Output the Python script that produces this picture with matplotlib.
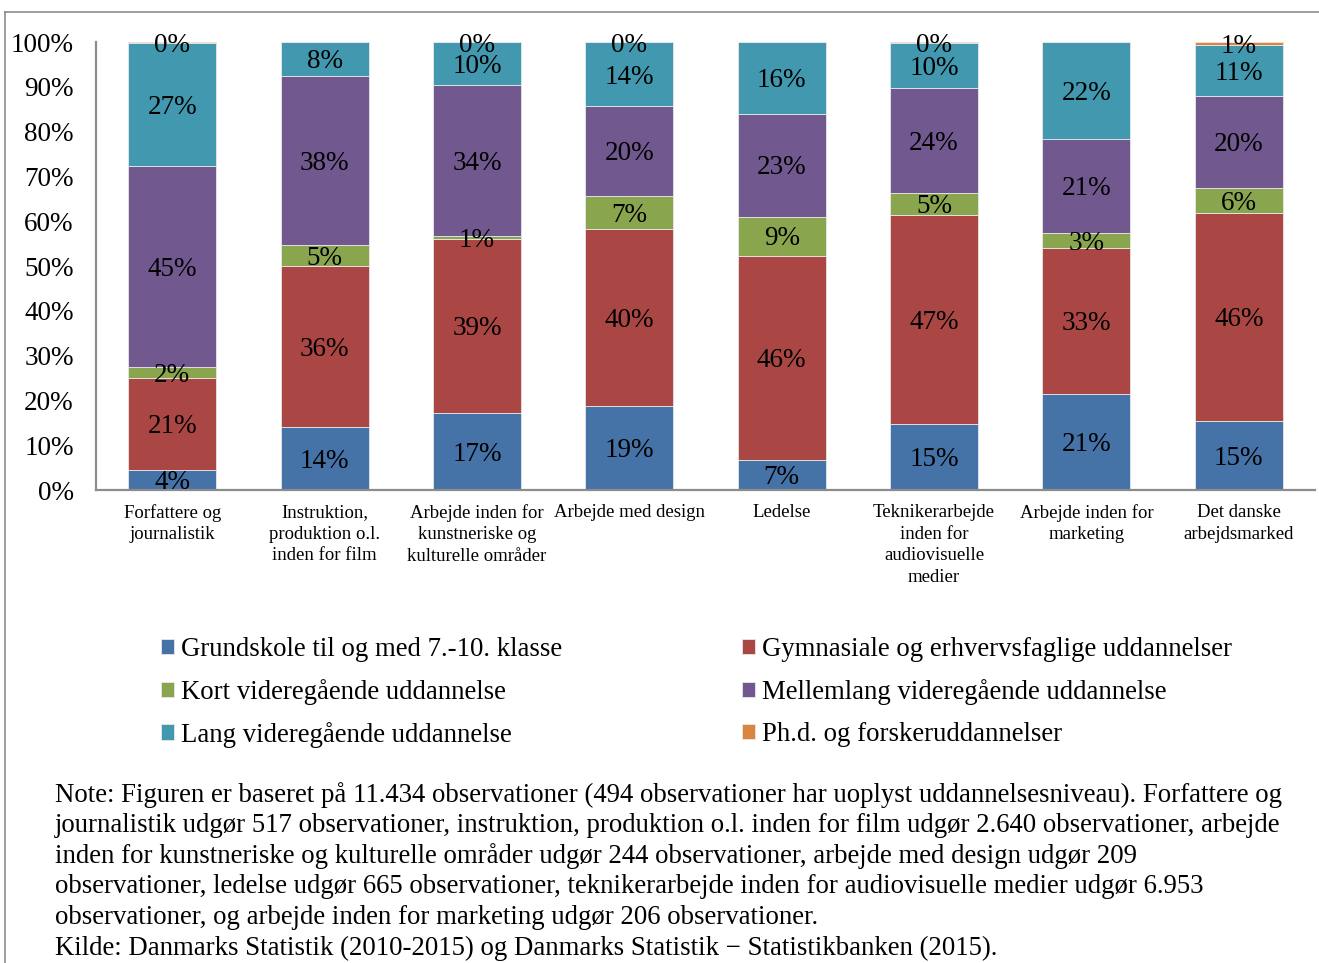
import matplotlib
matplotlib.use("Agg")
import matplotlib.pyplot as plt
from matplotlib.lines import Line2D
import numpy as np

plt.rcParams['font.family'] = ['Liberation Serif', 'DejaVu Serif']

categories = [
    "Forfattere og\njournalistik",
    "Instruktion,\nproduktion o.l.\ninden for film",
    "Arbejde inden for\nkunstneriske og\nkulturelle områder",
    "Arbejde med design",
    "Ledelse",
    "Teknikerarbejde\ninden for\naudiovisuelle\nmedier",
    "Arbejde inden for\nmarketing",
    "Det danske\narbejdsmarked",
]

series_names = [
    "Grundskole til og med 7.-10. klasse",
    "Gymnasiale og erhvervsfaglige uddannelser",
    "Kort videregående uddannelse",
    "Mellemlang videregående uddannelse",
    "Lang videregående uddannelse",
    "Ph.d. og forskeruddannelser",
]

grundskole = [4.4, 14.1, 17.2, 18.7, 6.7, 14.8, 21.4, 15.4]
gymnasiale = [20.6, 35.9, 38.8, 39.6, 45.6, 46.6, 32.6, 46.4]
kort = [2.4, 4.7, 0.8, 7.3, 8.7, 4.8, 3.4, 5.6]
mellemlang = [45.0, 37.7, 33.6, 20.1, 23.0, 23.6, 20.9, 20.5]
lang = [27.4, 7.6, 9.5, 14.2, 16.0, 10.0, 21.7, 11.4]
phd = [0.2, 0.0, 0.1, 0.1, 0.0, 0.2, 0.0, 0.7]

colors = ["#4572A7", "#AA4643", "#89A54E", "#71588F", "#4198AF", "#DB843D"]

yticks = [0, 10, 20, 30, 40, 50, 60, 70, 80, 90, 100]
ytick_labels = [f"{v}%" for v in yticks]

note_lines = [
    "Note: Figuren er baseret på 11.434 observationer (494 observationer har uoplyst uddannelsesniveau). Forfattere og",
    "journalistik udgør 517 observationer, instruktion, produktion o.l. inden for film udgør 2.640 observationer, arbejde",
    "inden for kunstneriske og kulturelle områder udgør 244 observationer, arbejde med design udgør 209",
    "observationer, ledelse udgør 665 observationer, teknikerarbejde inden for audiovisuelle medier udgør 6.953",
    "observationer, og arbejde inden for marketing udgør 206 observationer.",
    "Kilde: Danmarks Statistik (2010-2015) og Danmarks Statistik \u2212 Statistikbanken (2015).",
]

W, H = 1319, 963
fig = plt.figure(figsize=(W / 100, H / 100), dpi=100)
ax = fig.add_axes([96 / W, (H - 490) / H, (1315 - 96) / W, 448 / H])

data = np.array([grundskole, gymnasiale, kort, mellemlang, lang, phd])
totals = data.sum(axis=0)
pct = data / totals * 100
x = np.arange(len(categories))
bottom = np.zeros(len(categories))
handles = []
for i, name in enumerate(series_names):
    bars = ax.bar(x, pct[i], 0.577, bottom=bottom, color=colors[i],
                  edgecolor="#E8E8E8", linewidth=0.6, label=name)
    labels = [f"{round(v):d}%" if v > 0 else "" for v in data[i]]
    anns = ax.bar_label(bars, labels=labels, label_type="center", fontsize=19.5,
                        color="black")
    for a in anns:
        a.xyann = (0, -2.0)
    bottom += pct[i]
    handles.append(bars)

ax.set_xlim(-0.5, len(categories) - 0.5)
ax.set_ylim(0, 100)
ax.set_yticks(yticks)
ax.set_yticklabels(ytick_labels, fontsize=19.5)
ax.set_xticks(x)
ax.set_xticklabels(categories, fontsize=13.5, linespacing=1.36)
ax.tick_params(axis="y", length=0, pad=16)
ax.tick_params(axis="x", length=0, pad=10)
for s in ["top", "right"]:
    ax.spines[s].set_visible(False)
for s in ["left", "bottom"]:
    ax.spines[s].set_color("#8C8C8C")
    ax.spines[s].set_linewidth(1.6)

order = [0, 2, 4, 1, 3, 5]
leg = fig.legend([handles[i] for i in order], [series_names[i] for i in order],
                 ncol=2, loc="upper left", bbox_to_anchor=(161 / W, 1 - 637 / H),
                 frameon=False, fontsize=19.3, handlelength=0.5, handleheight=0.5,
                 handletextpad=0.25, columnspacing=6.7, labelspacing=0.63,
                 borderaxespad=0, borderpad=0)

for k, line in enumerate(note_lines):
    fig.text(55 / W, 1 - (795 + 30.6 * k) / H, line, fontsize=19.3,
             ha="left", va="center")

# figure frame
fig.add_artist(Line2D([5 / W, 1], [1 - 12 / H, 1 - 12 / H], color="#8C8C8C",
                      lw=1.2, transform=fig.transFigure))
fig.add_artist(Line2D([5 / W, 5 / W], [0, 1 - 12 / H], color="#8C8C8C",
                      lw=1.2, transform=fig.transFigure))

fig.savefig("out.png", dpi=100)
